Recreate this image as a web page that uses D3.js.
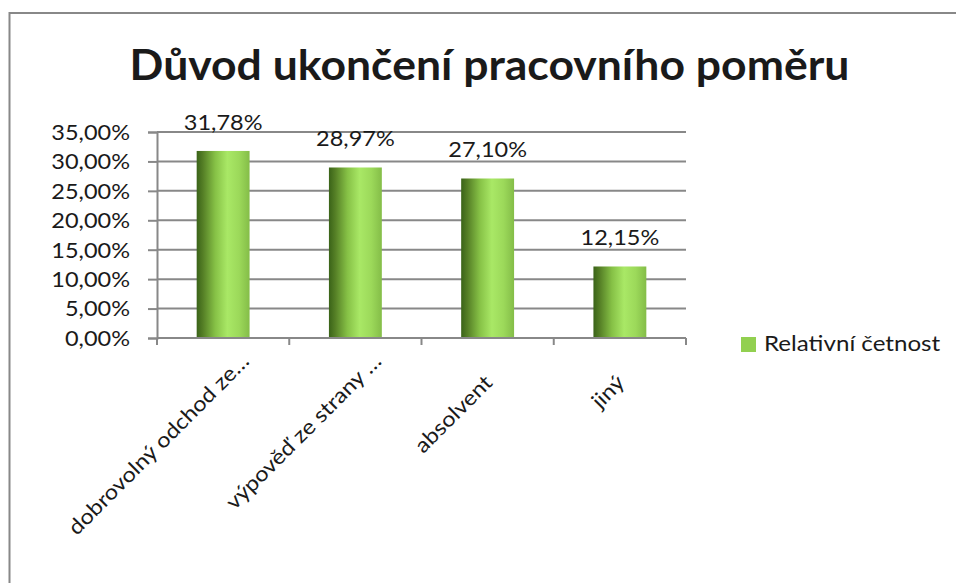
<!DOCTYPE html>
<html><head><meta charset="utf-8">
<script src="https://cdn.jsdelivr.net/npm/d3@7"></script>
<style>
html,body{margin:0;padding:0;background:#fff;}
svg{display:block;}
text{font-family:Lato,"Open Sans",sans-serif;fill:#1a1a1a;}
</style></head><body>
<svg id="chart" width="956" height="583"></svg>
<script>
const title = "Důvod ukončení pracovního poměru";
const categories = ["dobrovolný odchod ze…", "výpověď ze strany …", "absolvent", "jiný"];
const values = [0.3178, 0.2897, 0.2710, 0.1215];
const valueLabels = ["31,78%", "28,97%", "27,10%", "12,15%"];
const yTicks = [0, 0.05, 0.10, 0.15, 0.20, 0.25, 0.30, 0.35];
const seriesName = "Relativní četnost";

const svg = d3.select("#chart");
const gridCol = "#888888";
const SX = 1.12;   // horizontal stretch to mimic the wider original typeface

// outer border (extends past the view on right and bottom)
svg.append("rect").attr("x", 9.5).attr("y", 13).attr("width", 1000).attr("height", 640)
  .attr("fill", "none").attr("stroke", gridCol).attr("stroke-width", 2);

const x = d3.scaleBand().domain(categories).range([157, 686]).padding(0);
const y = d3.scaleLinear().domain([0, 0.35]).range([338, 132]);
const fmt = v => d3.format(".2f")(v * 100).replace(".", ",") + "%";

// gradient
const defs = svg.append("defs");
const g = defs.append("linearGradient").attr("id", "barGrad").attr("x1", "0").attr("x2", "1").attr("y1", "0").attr("y2", "0");
[[0, "#3a6318"], [0.12, "#557f26"], [0.35, "#86c146"], [0.58, "#a9e866"], [0.8, "#9cd95a"], [1, "#84bd48"]]
  .forEach(([o, c]) => g.append("stop").attr("offset", o).attr("stop-color", c));

// gridlines
svg.append("g").selectAll("line").data(yTicks.filter(t => t > 0)).join("line")
  .attr("x1", 157).attr("x2", 686).attr("y1", d => y(d)).attr("y2", d => y(d))
  .attr("stroke", gridCol).attr("stroke-width", 2);

// y axis (lines via d3.axisLeft, labels stretched)
const yAxis = svg.append("g").attr("transform", "translate(157,0)")
  .call(d3.axisLeft(y).tickValues(yTicks).tickFormat(fmt).tickSize(9).tickPadding(18));
yAxis.select(".domain").attr("stroke", gridCol).attr("stroke-width", 2);
yAxis.selectAll(".tick line").attr("stroke", gridCol).attr("stroke-width", 2);
yAxis.selectAll(".tick text")
  .attr("x", null).attr("dy", "0.35em")
  .attr("transform", `translate(-27,0) scale(${SX},1)`)
  .attr("font-size", 21).attr("font-family", "Lato").attr("fill", "#1a1a1a");

// bars
const barW = x.bandwidth() * 0.4;
svg.append("g").selectAll("rect").data(values).join("rect")
  .attr("x", (d, i) => x(categories[i]) + (x.bandwidth() - barW) / 2)
  .attr("y", d => y(d)).attr("width", barW).attr("height", d => y(0) - y(d))
  .attr("fill", "url(#barGrad)");

// x axis
const xAxis = svg.append("g").attr("transform", "translate(0,338)");
xAxis.append("line").attr("x1", 157).attr("x2", 686).attr("stroke", gridCol).attr("stroke-width", 2);
xAxis.selectAll("line.tk").data(categories.concat([null])).join("line").attr("class", "tk")
  .attr("x1", (d, i) => 157 + i * x.step()).attr("x2", (d, i) => 157 + i * x.step())
  .attr("y1", 0).attr("y2", 7).attr("stroke", gridCol).attr("stroke-width", 2);
xAxis.selectAll("text").data(categories).join("text")
  .attr("text-anchor", "end").attr("font-size", 21)
  .attr("transform", d => `translate(${x(d) + x.bandwidth() / 2 + 6},46) rotate(-45) scale(${SX},1)`)
  .attr("dx", d => d.endsWith("…") ? 27 : 0)
  .text(d => d);

// data labels
svg.append("g").selectAll("text").data(values).join("text")
  .attr("transform", (d, i) => `translate(${x(categories[i]) + x.bandwidth() / 2},${y(d) - 21}) scale(${SX},1)`)
  .attr("text-anchor", "middle").attr("font-size", 21)
  .text((d, i) => valueLabels[i]);

// title
svg.append("text").attr("transform", "translate(489.5,80) scale(1.06,1)").attr("text-anchor", "middle")
  .attr("font-size", 42).attr("font-weight", "bold").attr("fill", "#000").text(title);

// legend
svg.append("rect").attr("x", 741).attr("y", 337).attr("width", 15).attr("height", 15).attr("fill", "#92d050");
svg.append("text").attr("transform", "translate(764,351) scale(1.15,1)").attr("font-size", 21).text(seriesName);
</script></body></html>
